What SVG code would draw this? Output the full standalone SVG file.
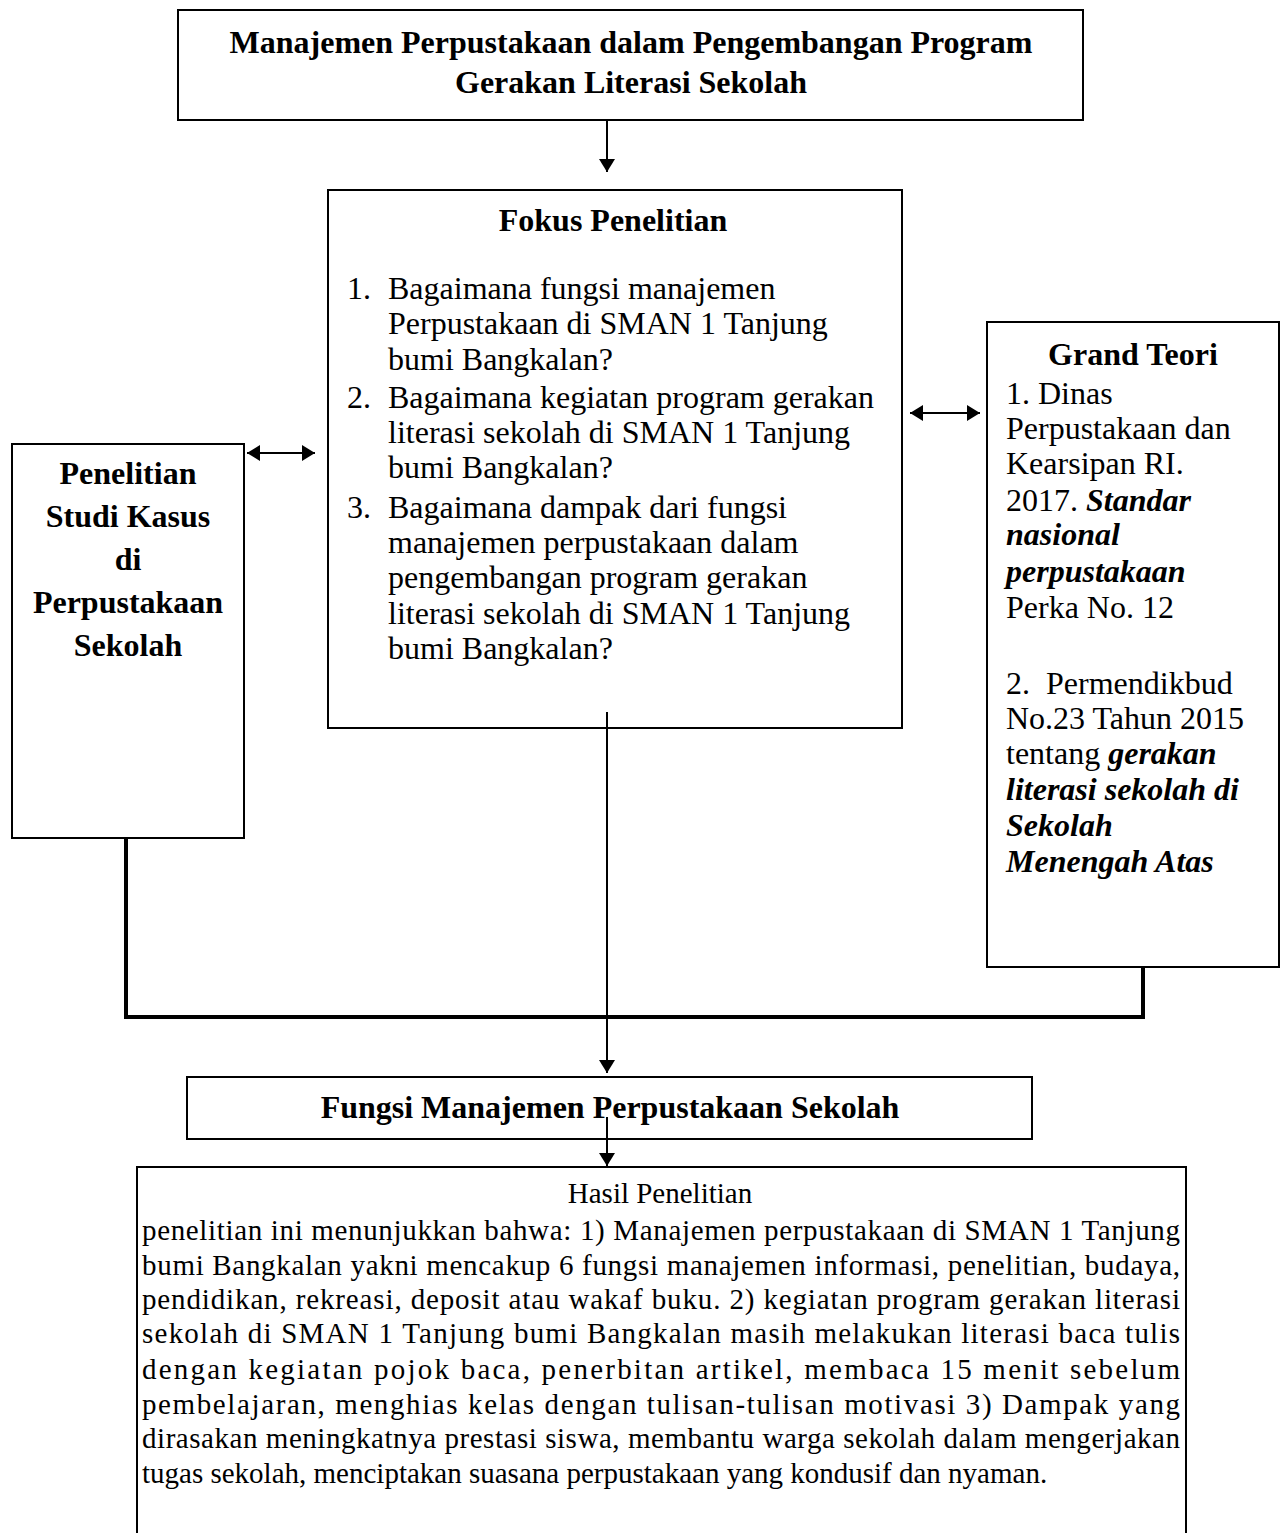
<svg xmlns="http://www.w3.org/2000/svg" width="1282" height="1533" viewBox="0 0 1282 1533">
<defs>
<marker id="ah2" viewBox="0 0 10 10" refX="10" refY="5" markerWidth="13" markerHeight="16" markerUnits="userSpaceOnUse" orient="auto-start-reverse" preserveAspectRatio="none"><path d="M0,0 L10,5 L0,10 z" fill="#000"/></marker>
<style>
.box{fill:#fff;stroke:#000;stroke-width:2}
.t{font-family:"Liberation Serif","Times New Roman",serif;fill:#000}
.b{font-weight:bold}
.bi{font-weight:bold;font-style:italic}
.ln{stroke:#000;stroke-width:2;fill:none}
.thick{stroke:#000;stroke-width:4;fill:none}
</style>
</defs>
<rect width="1282" height="1533" fill="#fff"/>

<g id="top">
<rect class="box" x="178" y="10" width="905" height="110"/>
<text class="t b" x="631" y="53" font-size="32" text-anchor="middle">Manajemen Perpustakaan dalam Pengembangan Program</text>
<text class="t b" x="631" y="93" font-size="32" text-anchor="middle">Gerakan Literasi Sekolah</text>
</g>

<g id="fokus">
<rect class="box" x="328" y="190" width="574" height="538"/>
<text class="t b" x="613" y="231" font-size="32" text-anchor="middle">Fokus Penelitian</text>
<g class="t" font-size="32">
<text x="347" y="299">1.</text>
<text x="388" y="299">Bagaimana fungsi manajemen</text>
<text x="388" y="334">Perpustakaan di SMAN 1 Tanjung</text>
<text x="388" y="370">bumi Bangkalan?</text>
<text x="347" y="408">2.</text>
<text x="388" y="408">Bagaimana kegiatan program gerakan</text>
<text x="388" y="443">literasi sekolah di SMAN 1 Tanjung</text>
<text x="388" y="478">bumi Bangkalan?</text>
<text x="347" y="518">3.</text>
<text x="388" y="518">Bagaimana dampak dari fungsi</text>
<text x="388" y="553">manajemen perpustakaan dalam</text>
<text x="388" y="588">pengembangan program gerakan</text>
<text x="388" y="624">literasi sekolah di SMAN 1 Tanjung</text>
<text x="388" y="659">bumi Bangkalan?</text>
</g>
</g>

<g id="penelitian">
<rect class="box" x="12" y="444" width="232" height="394"/>
<g class="t b" font-size="32" text-anchor="middle">
<text x="128" y="484">Penelitian</text>
<text x="128" y="527">Studi Kasus</text>
<text x="128" y="570">di</text>
<text x="128" y="613">Perpustakaan</text>
<text x="128" y="656">Sekolah</text>
</g>
</g>

<g id="grand">
<rect class="box" x="987" y="322" width="292" height="645"/>
<text class="t b" x="1133" y="365" font-size="32" text-anchor="middle">Grand Teori</text>
<g class="t" font-size="32">
<text x="1006" y="404">1. Dinas</text>
<text x="1006" y="439">Perpustakaan dan</text>
<text x="1006" y="474">Kearsipan RI.</text>
<text x="1006" y="511">2017. <tspan class="bi">Standar</tspan></text>
<text x="1006" y="545" class="bi">nasional</text>
<text x="1006" y="582" class="bi">perpustakaan</text>
<text x="1006" y="618">Perka No. 12</text>
<text x="1006" y="694" xml:space="preserve">2.  Permendikbud</text>
<text x="1006" y="729">No.23 Tahun 2015</text>
<text x="1006" y="764">tentang <tspan class="bi">gerakan</tspan></text>
<text x="1006" y="800" class="bi">literasi sekolah di</text>
<text x="1006" y="836" class="bi">Sekolah</text>
<text x="1006" y="872" class="bi">Menengah Atas</text>
</g>
</g>

<g id="fungsi">
<rect class="box" x="187" y="1077" width="845" height="62"/>
<text class="t b" x="610" y="1118" font-size="32" text-anchor="middle">Fungsi Manajemen Perpustakaan Sekolah</text>
</g>

<g id="hasil">
<rect class="box" x="137" y="1167" width="1049" height="380"/>
<g class="t" font-size="29">
<text x="660" y="1203" text-anchor="middle">Hasil Penelitian</text>
<text x="142" y="1240" textLength="1038" lengthAdjust="spacing">penelitian ini menunjukkan bahwa: 1) Manajemen perpustakaan di SMAN 1 Tanjung</text>
<text x="142" y="1275" textLength="1038" lengthAdjust="spacing">bumi Bangkalan yakni mencakup 6 fungsi manajemen informasi, penelitian, budaya,</text>
<text x="142" y="1309" textLength="1038" lengthAdjust="spacing">pendidikan, rekreasi, deposit atau wakaf buku.  2) kegiatan program gerakan literasi</text>
<text x="142" y="1343" textLength="1038" lengthAdjust="spacing">sekolah di SMAN 1 Tanjung bumi Bangkalan masih  melakukan literasi baca tulis</text>
<text x="142" y="1379" textLength="1038" lengthAdjust="spacing">dengan kegiatan pojok baca, penerbitan artikel, membaca 15 menit sebelum</text>
<text x="142" y="1414" textLength="1038" lengthAdjust="spacing">pembelajaran, menghias kelas dengan tulisan-tulisan motivasi 3) Dampak yang</text>
<text x="142" y="1448" textLength="1038" lengthAdjust="spacing">dirasakan meningkatnya prestasi siswa, membantu warga sekolah dalam mengerjakan</text>
<text x="142" y="1483">tugas sekolah, menciptakan suasana perpustakaan yang kondusif dan nyaman.</text>
</g>
</g>

<g id="connectors">
<line class="ln" x1="607" y1="121" x2="607" y2="172" marker-end="url(#ah2)"/>
<line class="ln" x1="247" y1="453" x2="315" y2="453" marker-start="url(#ah2)" marker-end="url(#ah2)"/>
<line class="ln" x1="910" y1="413" x2="980" y2="413" marker-start="url(#ah2)" marker-end="url(#ah2)"/>
<polyline class="thick" points="126,839 126,1017 1143,1017 1143,968"/>
<line class="ln" x1="607" y1="712" x2="607" y2="1073" marker-end="url(#ah2)"/>
<line class="ln" x1="607" y1="1117" x2="607" y2="1166" marker-end="url(#ah2)"/>
</g>
</svg>
